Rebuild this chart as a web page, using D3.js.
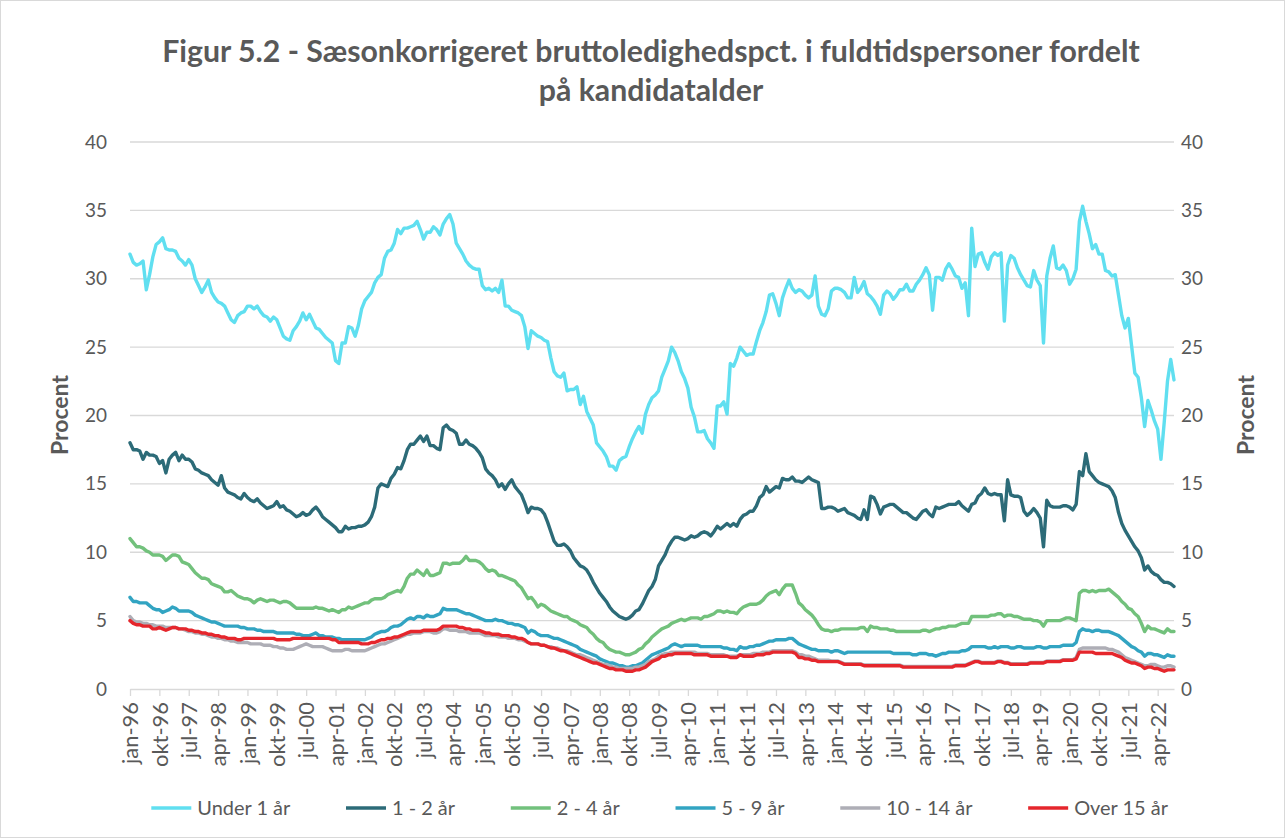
<!DOCTYPE html>
<html>
<head>
<meta charset="utf-8">
<script src="https://cdn.jsdelivr.net/npm/d3@7"></script>
<style>
  body { margin: 0; background: #fff; }
  text { font-family: Lato, "Open Sans", sans-serif; fill: #595959; }
</style>
</head>
<body>
<div id="chart"></div>
<script>
// monthly values, jan-96 .. sep-22
var tickLabels = ["jan-96","okt-96","jul-97","apr-98","jan-99","okt-99","jul-00","apr-01","jan-02","okt-02",
  "jul-03","apr-04","jan-05","okt-05","jul-06","apr-07","jan-08","okt-08","jul-09","apr-10",
  "jan-11","okt-11","jul-12","apr-13","jan-14","okt-14","jul-15","apr-16","jan-17","okt-17",
  "jul-18","apr-19","jan-20","okt-20","jul-21","apr-22"];
var yTicks = [0, 5, 10, 15, 20, 25, 30, 35, 40];
var seriesNames = ["Under 1 år", "1 - 2 år", "2 - 4 år", "5 - 9 år", "10 - 14 år", "Over 15 år"];
var seriesColors = ["#60DFF0", "#2C6B78", "#72C17C", "#32A4C2", "#AEAEB6", "#E5262C"];

var under1 = [31.8,31.2,31.0,31.1,31.3,29.2,30.3,31.6,32.5,32.7,
33.0,32.2,32.1,32.1,32.0,31.5,31.3,31.0,31.4,31.0,
30.0,29.5,29.0,29.4,29.9,29.0,28.6,28.3,28.2,28.0,
27.5,27.0,26.8,27.3,27.5,27.6,28.0,28.0,27.8,28.0,
27.6,27.3,27.2,26.9,27.2,27.0,26.4,25.8,25.6,25.5,
26.2,26.5,26.9,27.5,27.0,27.4,26.9,26.4,26.3,26.0,
25.7,25.5,25.3,24.0,23.8,25.3,25.3,26.5,26.4,25.8,
26.6,27.8,28.4,28.7,29.0,29.7,30.1,30.3,31.5,32.0,
32.1,32.6,33.6,33.3,33.7,33.7,33.8,33.9,34.2,33.6,
32.9,33.4,33.4,33.8,33.6,33.2,34.0,34.4,34.7,34.0,
32.6,32.2,31.8,31.3,31.0,30.8,30.7,30.7,29.5,29.2,
29.3,29.1,29.3,29.0,29.9,28.0,28.0,27.7,27.6,27.5,
27.3,26.5,24.9,26.2,26.0,25.8,25.7,25.5,25.4,24.2,
23.2,22.9,22.8,23.1,21.8,21.9,21.9,22.1,20.8,21.4,
20.3,19.8,19.3,18.0,17.7,17.4,17.0,16.3,16.3,16.0,
16.7,16.9,17.0,17.7,18.3,18.8,19.2,18.7,20.1,20.8,
21.3,21.5,21.8,22.8,23.4,24.0,25.0,24.6,24.0,23.2,
22.7,22.0,20.6,19.9,18.8,18.8,18.9,18.3,18.0,17.6,
20.7,20.7,21.0,20.1,23.8,23.6,24.2,25.0,24.7,24.4,
24.5,24.5,25.4,26.2,26.8,27.6,28.8,28.9,28.2,27.3,
28.6,29.3,29.9,29.3,29.0,29.2,29.1,28.8,28.6,28.8,
30.2,28.0,27.4,27.3,27.8,29.1,29.3,29.3,29.2,29.0,
28.6,28.6,30.1,29.0,29.3,29.8,28.9,28.7,28.4,28.0,
27.4,28.8,29.1,28.9,28.5,28.8,29.2,29.2,29.6,29.1,
29.1,29.6,29.9,30.3,30.8,30.3,27.7,30.1,30.1,29.9,
30.7,31.1,30.7,30.2,30.1,29.3,29.7,27.3,33.7,30.9,
31.8,31.9,31.2,30.7,31.6,31.9,31.7,31.9,26.9,31.0,
31.7,31.5,30.8,30.3,29.9,29.5,29.4,30.6,29.9,29.5,
25.3,30.2,31.5,32.4,30.8,30.7,31.0,30.6,29.6,30.0,
30.7,34.2,35.3,34.2,33.3,32.2,32.5,31.8,31.8,30.6,
30.5,30.2,30.3,28.8,27.3,26.4,27.1,25.1,23.1,22.8,
21.3,19.2,21.1,20.4,19.6,19.0,16.8,19.5,22.5,24.1,
22.6];

var years1to2 = [18.0,17.5,17.5,17.4,16.8,17.3,17.1,17.1,17.0,16.5,
16.7,15.8,16.8,17.1,17.3,16.7,17.1,16.8,16.8,16.6,
16.1,16.0,15.8,15.7,15.6,15.3,15.1,14.9,15.6,14.7,
14.4,14.3,14.2,14.0,13.9,14.3,14.0,13.8,13.7,13.9,
13.6,13.4,13.2,13.3,13.4,13.7,13.3,13.4,13.1,13.0,
12.8,12.6,12.7,12.9,12.7,12.8,13.1,13.3,13.0,12.6,
12.4,12.2,12.0,11.8,11.5,11.5,11.9,11.7,11.8,11.8,
11.9,11.9,12.0,12.2,12.6,13.3,14.7,15.0,14.9,14.8,
15.4,15.7,16.2,16.1,16.7,17.5,17.9,17.9,18.2,18.5,
18.1,18.5,17.8,17.8,17.6,17.5,19.1,19.3,19.0,18.9,
18.7,17.9,17.9,18.2,17.9,17.8,17.6,17.3,16.9,16.1,
15.8,15.6,15.3,14.8,15.0,14.6,15.0,15.3,14.8,14.5,
14.2,13.6,12.9,13.3,13.2,13.2,13.1,12.8,12.2,11.5,
10.8,10.5,10.5,10.6,10.4,10.1,9.6,9.3,9.0,8.9,
8.7,8.3,7.8,7.4,7.0,6.7,6.4,6.0,5.7,5.5,
5.3,5.2,5.1,5.2,5.4,5.7,5.8,6.2,6.7,7.2,
7.5,8.0,9.0,9.4,9.8,10.4,10.8,11.1,11.1,11.0,
10.9,11.0,11.2,11.1,11.2,11.4,11.5,11.4,11.2,11.5,
11.9,11.7,11.9,12.1,11.9,12.1,11.9,12.4,12.7,12.8,
13.0,13.0,13.4,14.0,14.2,14.8,14.4,14.6,14.8,14.7,
15.4,15.3,15.3,15.5,15.2,15.2,15.1,15.3,15.5,15.3,
15.2,15.1,13.2,13.2,13.3,13.3,13.2,13.0,13.1,13.2,
12.9,12.8,12.7,12.5,12.4,13.1,12.4,14.1,14.0,13.5,
12.8,13.3,13.4,13.5,13.5,13.3,13.1,12.9,12.9,12.7,
12.5,12.4,12.7,13.0,13.1,12.8,12.6,13.3,13.2,13.3,
13.4,13.5,13.5,13.5,13.7,13.4,13.2,13.0,13.5,13.6,
14.1,14.3,14.7,14.3,14.2,14.3,14.2,14.2,12.3,15.3,
14.2,14.1,14.1,14.0,13.0,12.7,12.9,13.2,12.9,12.5,
10.4,13.8,13.4,13.3,13.3,13.3,13.4,13.4,13.3,13.1,
13.5,15.9,15.6,17.2,15.9,15.6,15.3,15.1,15.0,14.9,
14.8,14.5,14.0,12.9,12.1,11.6,11.2,10.8,10.4,10.1,
9.6,8.7,9.0,8.6,8.4,8.3,8.0,7.8,7.8,7.7,
7.5];

var years2to4 = [11.0,10.7,10.4,10.4,10.3,10.1,10.0,9.8,9.8,9.8,
9.7,9.4,9.6,9.8,9.8,9.7,9.3,9.2,9.1,8.8,
8.5,8.3,8.1,8.1,8.0,7.7,7.6,7.5,7.4,7.1,
7.1,7.2,7.0,6.8,6.7,6.6,6.6,6.5,6.3,6.5,
6.6,6.5,6.4,6.5,6.5,6.4,6.3,6.4,6.4,6.3,
6.1,5.9,5.9,5.9,5.9,5.9,5.9,6.0,5.9,5.9,
5.8,5.7,5.8,5.7,5.6,5.8,5.8,6.0,5.9,6.0,
6.1,6.2,6.3,6.3,6.5,6.6,6.6,6.6,6.7,6.9,
7.0,7.1,7.2,7.1,7.5,8.1,8.4,8.4,8.7,8.5,
8.3,8.7,8.3,8.3,8.4,8.5,9.2,9.2,9.1,9.2,
9.2,9.2,9.4,9.7,9.4,9.4,9.4,9.3,9.1,8.8,
8.6,8.7,8.6,8.3,8.3,8.2,8.1,8.0,7.9,7.6,
7.4,7.0,6.6,6.7,6.4,6.0,6.2,6.1,5.9,5.7,
5.6,5.5,5.4,5.3,5.3,5.1,5.0,4.9,4.7,4.6,
4.5,4.2,4.0,3.7,3.5,3.4,3.1,2.9,2.8,2.7,
2.7,2.6,2.5,2.5,2.6,2.7,2.9,3.0,3.3,3.5,
3.8,4.0,4.2,4.4,4.5,4.6,4.8,4.9,5.0,5.1,
5.0,5.1,5.2,5.2,5.2,5.1,5.3,5.3,5.4,5.5,
5.7,5.7,5.6,5.7,5.6,5.6,5.5,5.8,6.0,6.1,
6.2,6.2,6.2,6.3,6.5,6.8,7.0,7.1,7.2,6.9,
7.3,7.6,7.6,7.6,7.0,6.3,6.1,5.8,5.6,5.4,
5.1,4.7,4.4,4.3,4.3,4.2,4.3,4.3,4.4,4.4,
4.4,4.4,4.4,4.4,4.5,4.5,4.2,4.6,4.5,4.5,
4.4,4.4,4.4,4.3,4.3,4.2,4.2,4.2,4.2,4.2,
4.2,4.2,4.2,4.3,4.3,4.2,4.3,4.4,4.4,4.5,
4.5,4.6,4.6,4.6,4.7,4.8,4.8,4.8,5.3,5.3,
5.3,5.3,5.3,5.3,5.4,5.4,5.5,5.5,5.3,5.4,
5.4,5.3,5.3,5.2,5.1,5.1,5.1,5.0,5.0,4.9,
4.6,5.0,5.0,5.0,5.0,5.0,5.1,5.2,5.2,5.1,
5.0,7.0,7.2,7.2,7.1,7.2,7.1,7.2,7.2,7.2,
7.3,7.1,6.9,6.7,6.4,6.2,5.9,5.8,5.5,5.3,
4.8,4.2,4.6,4.4,4.4,4.3,4.2,4.1,4.4,4.2,
4.2];

var years5to9 = [6.7,6.4,6.4,6.3,6.3,6.3,6.1,5.9,5.8,5.8,
5.6,5.7,5.8,6.0,5.9,5.7,5.7,5.7,5.7,5.6,
5.4,5.3,5.2,5.1,5.0,4.9,4.9,4.8,4.7,4.6,
4.6,4.6,4.6,4.6,4.5,4.5,4.4,4.4,4.4,4.3,
4.3,4.2,4.2,4.2,4.2,4.1,4.1,4.1,4.1,4.1,
4.1,4.0,4.0,3.9,3.9,3.9,4.0,4.1,3.9,3.9,
3.8,3.8,3.8,3.7,3.7,3.6,3.6,3.6,3.6,3.6,
3.6,3.6,3.6,3.7,3.8,4.0,4.1,4.2,4.2,4.3,
4.5,4.6,4.6,4.7,4.9,5.1,5.2,5.1,5.3,5.3,
5.2,5.4,5.3,5.3,5.4,5.5,5.9,5.8,5.8,5.8,
5.8,5.7,5.6,5.5,5.5,5.4,5.3,5.2,5.1,5.0,
5.0,5.0,5.1,5.0,5.0,4.9,4.8,4.8,4.7,4.7,
4.6,4.5,4.1,4.3,4.2,4.0,3.9,3.9,3.9,3.8,
3.7,3.7,3.6,3.5,3.4,3.3,3.2,3.1,2.9,2.8,
2.7,2.6,2.5,2.4,2.2,2.1,2.0,1.9,1.9,1.8,
1.7,1.7,1.6,1.6,1.7,1.7,1.8,1.9,2.1,2.3,
2.5,2.6,2.7,2.8,2.9,3.0,3.2,3.3,3.2,3.1,
3.2,3.2,3.2,3.2,3.2,3.1,3.1,3.1,3.1,3.1,
3.1,3.1,3.0,3.0,2.9,2.9,2.8,3.1,3.0,3.0,
3.1,3.1,3.2,3.2,3.3,3.4,3.5,3.5,3.6,3.6,
3.6,3.6,3.7,3.7,3.5,3.3,3.2,3.1,3.0,2.9,
2.9,2.8,2.8,2.8,2.8,2.7,2.8,2.8,2.7,2.6,
2.7,2.7,2.7,2.7,2.7,2.7,2.7,2.7,2.7,2.7,
2.7,2.7,2.7,2.7,2.6,2.6,2.6,2.6,2.6,2.6,
2.5,2.5,2.6,2.6,2.6,2.5,2.5,2.4,2.5,2.6,
2.6,2.7,2.7,2.7,2.7,2.8,2.8,2.9,3.1,3.1,
3.1,3.1,3.1,3.0,3.0,3.1,3.0,3.1,3.1,3.1,
3.0,3.0,3.1,3.1,3.0,3.0,3.0,3.0,3.1,3.1,
3.0,3.0,3.1,3.1,3.1,3.1,3.2,3.2,3.2,3.2,
3.4,4.2,4.4,4.3,4.3,4.2,4.3,4.3,4.2,4.2,
4.2,4.1,4.0,3.9,3.7,3.5,3.3,3.1,3.0,2.8,
2.7,2.4,2.6,2.6,2.5,2.5,2.4,2.3,2.5,2.4,
2.4];

var years10to14 = [5.3,5.0,4.9,4.9,4.8,4.8,4.7,4.7,4.6,4.6,
4.6,4.5,4.5,4.5,4.5,4.4,4.4,4.3,4.2,4.2,
4.1,4.1,4.0,4.0,3.9,3.8,3.8,3.7,3.7,3.6,
3.6,3.5,3.5,3.4,3.4,3.4,3.4,3.3,3.3,3.3,
3.3,3.2,3.2,3.2,3.1,3.1,3.0,3.0,2.9,2.9,
2.9,3.0,3.1,3.2,3.3,3.2,3.1,3.1,3.1,3.1,
3.0,2.9,2.8,2.8,2.8,2.8,2.9,2.9,2.8,2.8,
2.8,2.8,2.8,2.9,3.0,3.1,3.2,3.3,3.3,3.4,
3.5,3.6,3.7,3.8,3.9,4.0,4.0,4.1,4.1,4.1,
4.2,4.2,4.2,4.1,4.1,4.2,4.4,4.4,4.3,4.3,
4.3,4.2,4.2,4.2,4.1,4.1,4.1,4.1,4.0,3.9,
3.9,3.9,3.9,3.8,3.8,3.8,3.7,3.7,3.7,3.6,
3.6,3.5,3.4,3.3,3.3,3.3,3.2,3.2,3.1,3.1,
3.0,3.0,2.9,2.8,2.8,2.7,2.6,2.5,2.5,2.4,
2.3,2.2,2.1,2.0,1.9,1.8,1.8,1.7,1.6,1.6,
1.5,1.5,1.5,1.5,1.5,1.6,1.6,1.7,1.8,2.0,
2.1,2.2,2.4,2.5,2.6,2.6,2.7,2.7,2.7,2.7,
2.7,2.7,2.7,2.7,2.6,2.6,2.6,2.6,2.5,2.5,
2.5,2.5,2.5,2.4,2.4,2.4,2.4,2.5,2.5,2.5,
2.5,2.6,2.6,2.6,2.7,2.7,2.7,2.8,2.8,2.8,
2.8,2.8,2.8,2.8,2.7,2.5,2.5,2.4,2.4,2.3,
2.2,2.1,2.1,2.1,2.1,2.05,2.05,2.05,1.95,1.85,
1.85,1.85,1.85,1.85,1.85,1.75,1.75,1.75,1.75,1.75,
1.75,1.75,1.75,1.75,1.75,1.75,1.75,1.65,1.65,1.65,
1.65,1.65,1.65,1.65,1.65,1.65,1.65,1.65,1.65,1.65,
1.65,1.65,1.65,1.75,1.75,1.75,1.75,1.85,1.95,2.05,
2.05,1.95,1.95,1.95,1.95,1.95,2.05,2.05,1.95,1.95,
1.85,1.85,1.85,1.85,1.85,1.85,1.95,1.95,1.95,1.95,
1.95,2.05,2.05,2.05,2.05,2.05,2.15,2.15,2.15,2.15,
2.3,2.9,3.0,3.0,3.0,3.0,3.0,3.0,3.0,3.0,
2.9,2.9,2.8,2.7,2.5,2.3,2.2,2.1,2.0,1.9,
1.8,1.7,1.7,1.8,1.8,1.7,1.6,1.6,1.7,1.7,
1.6];

var over15 = [5.0,4.8,4.7,4.7,4.6,4.6,4.6,4.4,4.4,4.5,
4.4,4.3,4.4,4.5,4.5,4.4,4.4,4.4,4.3,4.3,
4.2,4.2,4.1,4.1,4.0,4.0,3.9,3.9,3.8,3.8,
3.7,3.7,3.7,3.6,3.6,3.7,3.7,3.7,3.7,3.7,
3.7,3.7,3.7,3.7,3.7,3.6,3.6,3.6,3.6,3.6,
3.7,3.7,3.7,3.7,3.7,3.7,3.7,3.7,3.7,3.7,
3.7,3.7,3.6,3.6,3.4,3.4,3.4,3.4,3.4,3.4,
3.4,3.3,3.3,3.3,3.4,3.4,3.5,3.6,3.6,3.7,
3.7,3.8,3.8,3.9,4.0,4.1,4.2,4.2,4.2,4.2,
4.3,4.3,4.3,4.3,4.3,4.4,4.6,4.6,4.6,4.6,
4.6,4.5,4.5,4.4,4.4,4.3,4.3,4.3,4.2,4.1,
4.1,4.0,4.0,4.0,3.9,3.9,3.9,3.8,3.8,3.7,
3.7,3.6,3.4,3.3,3.3,3.3,3.2,3.2,3.1,3.0,
3.0,2.9,2.8,2.8,2.7,2.6,2.5,2.4,2.3,2.2,
2.1,2.0,1.9,1.9,1.8,1.7,1.6,1.5,1.5,1.4,
1.4,1.4,1.3,1.3,1.3,1.4,1.4,1.5,1.6,1.8,
2.0,2.1,2.2,2.4,2.4,2.5,2.5,2.6,2.6,2.6,
2.6,2.6,2.6,2.5,2.5,2.5,2.5,2.5,2.4,2.4,
2.4,2.4,2.4,2.4,2.3,2.3,2.3,2.5,2.4,2.4,
2.4,2.4,2.5,2.5,2.5,2.6,2.6,2.7,2.7,2.7,
2.7,2.7,2.7,2.7,2.6,2.3,2.3,2.2,2.2,2.1,
2.1,2.0,2.0,2.0,2.0,2.0,2.0,2.0,1.9,1.8,
1.8,1.8,1.8,1.8,1.8,1.7,1.7,1.7,1.7,1.7,
1.7,1.7,1.7,1.7,1.7,1.7,1.7,1.6,1.6,1.6,
1.6,1.6,1.6,1.6,1.6,1.6,1.6,1.6,1.6,1.6,
1.6,1.6,1.6,1.7,1.7,1.7,1.7,1.8,1.9,2.0,
2.0,1.9,1.9,1.9,1.9,1.9,2.0,2.0,1.9,1.9,
1.8,1.8,1.8,1.8,1.8,1.8,1.9,1.9,1.9,1.9,
1.9,2.0,2.0,2.0,2.0,2.0,2.1,2.1,2.1,2.1,
2.2,2.7,2.7,2.7,2.7,2.7,2.6,2.6,2.6,2.6,
2.6,2.6,2.5,2.4,2.3,2.1,2.0,1.9,1.9,1.8,
1.7,1.5,1.6,1.6,1.5,1.5,1.4,1.3,1.4,1.4,
1.4];

var allSeries = [under1, years1to2, years2to4, years5to9, years10to14, over15];

var width = 1285, height = 838;
var plot = { left: 130, right: 1174, top: 142, bottom: 689 };

var svg = d3.select("#chart")
    .append("svg")
    .attr("width", width)
    .attr("height", height);

svg.append("rect")
    .attr("x", 0.5).attr("y", 0.5)
    .attr("width", width - 1).attr("height", height - 1)
    .attr("fill", "#fff")
    .attr("stroke", "#D9D9D9");

// pick a font size so that a string gets the width seen in the picture
function fitSize(str, weight, target) {
    var t = svg.append("text").attr("font-size", 100).attr("font-weight", weight).text(str);
    var w = t.node().getComputedTextLength();
    t.remove();
    return 100 * target / w;
}

var x = d3.scaleLinear()
    .domain([0, under1.length - 1])
    .range([plot.left, plot.right]);
var y = d3.scaleLinear()
    .domain([0, 40])
    .range([plot.bottom, plot.top]);

// title
var titleSize = fitSize("Figur 5.2 - Sæsonkorrigeret bruttoledighedspct. i fuldtidspersoner fordelt", "bold", 978);
var title = svg.append("text")
    .attr("x", 651).attr("y", 62)
    .attr("text-anchor", "middle")
    .attr("font-size", titleSize)
    .attr("font-weight", "bold");
title.append("tspan").attr("x", 651).attr("y", 62)
    .text("Figur 5.2 - Sæsonkorrigeret bruttoledighedspct. i fuldtidspersoner fordelt");
title.append("tspan").attr("x", 651).attr("y", 101)
    .text("på kandidatalder");

// gridlines
svg.append("g")
    .selectAll("line")
    .data(yTicks.slice(1))
    .enter()
    .append("line")
    .attr("x1", plot.left).attr("x2", plot.right)
    .attr("y1", function (d) { return y(d); })
    .attr("y2", function (d) { return y(d); })
    .attr("stroke", "#D9D9D9")
    .attr("stroke-width", 1.3);

var tickSize = fitSize("40", "normal", 22);

// left and right value axes
var yLeft = svg.append("g")
    .attr("transform", "translate(" + plot.left + ",0)")
    .call(d3.axisLeft(y).tickValues(yTicks).tickSize(0).tickPadding(23));
var yRight = svg.append("g")
    .attr("transform", "translate(" + plot.right + ",0)")
    .call(d3.axisRight(y).tickValues(yTicks).tickSize(0).tickPadding(7));
[yLeft, yRight].forEach(function (g) {
    g.select(".domain").remove();
    g.selectAll("text")
        .attr("font-size", tickSize)
        .attr("font-family", "Lato, sans-serif")
        .attr("fill", "#595959");
});

// category axis
var xTickSize = fitSize("jan-96", "normal", 62);
var xAxis = svg.append("g")
    .attr("transform", "translate(0," + plot.bottom + ")")
    .call(d3.axisBottom(x)
        .tickValues(d3.range(0, tickLabels.length * 9, 9))
        .tickFormat(function (d) { return tickLabels[d / 9]; })
        .tickSizeInner(7)
        .tickSizeOuter(0));
xAxis.select(".domain").attr("stroke", "#D9D9D9").attr("stroke-width", 1.3);
xAxis.selectAll(".tick line").attr("stroke", "#D9D9D9").attr("stroke-width", 1.3);
xAxis.selectAll("text")
    .attr("font-size", xTickSize)
    .attr("font-family", "Lato, sans-serif")
    .attr("fill", "#595959")
    .attr("transform", "rotate(-90)")
    .attr("x", -13)
    .attr("y", 0)
    .attr("dy", "0.35em")
    .style("text-anchor", "end");

// axis titles
var labelSize = fitSize("Procent", "bold", 80);
[60, 1246].forEach(function (cx) {
    svg.append("text")
        .attr("transform", "translate(" + cx + ",415)rotate(-90)")
        .attr("text-anchor", "middle")
        .attr("dy", "0.35em")
        .attr("font-size", labelSize)
        .attr("font-weight", "bold")
        .text("Procent");
});

// lines
var line = d3.line()
    .x(function (d, i) { return x(i); })
    .y(function (d) { return y(d); });

svg.append("g")
    .selectAll("path")
    .data(allSeries)
    .enter()
    .append("path")
    .attr("d", line)
    .attr("fill", "none")
    .attr("stroke", function (d, i) { return seriesColors[i]; })
    .attr("stroke-width", 3.4)
    .attr("stroke-linejoin", "round")
    .attr("stroke-linecap", "round");

// legend
var legendSize = fitSize("Under 1 år", "normal", 93);
var legend = svg.append("g");
var items = legend.selectAll("g")
    .data(seriesNames)
    .enter()
    .append("g");
items.append("line")
    .attr("x1", 0).attr("x2", 40)
    .attr("y1", 0).attr("y2", 0)
    .attr("stroke", function (d, i) { return seriesColors[i]; })
    .attr("stroke-width", 3.4);
items.append("text")
    .attr("x", 46)
    .attr("dy", "0.35em")
    .attr("font-size", legendSize)
    .text(function (d) { return d; });

var gap = 55, widths = [];
items.each(function () { widths.push(this.getBBox().width); });
var total = d3.sum(widths) + gap * (widths.length - 1);
var pos = 660 - total / 2;
items.attr("transform", function (d, i) {
    var t = "translate(" + pos + ",808)";
    pos += widths[i] + gap;
    return t;
});
</script>
</body>
</html>
